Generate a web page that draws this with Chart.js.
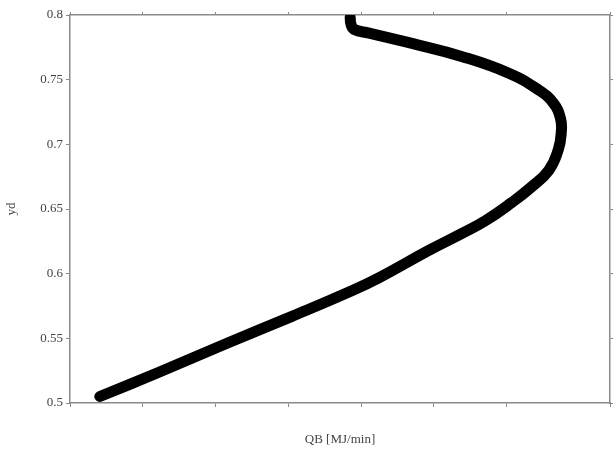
<!DOCTYPE html>
<html>
<head>
<meta charset="utf-8">
<script src="https://cdn.jsdelivr.net/npm/chart.js@4.4.1/dist/chart.umd.min.js"></script>
<style>
  html, body { margin: 0; padding: 0; background: #fff; }
  #wrap { width: 613px; height: 451px; }
</style>
</head>
<body>
<div id="wrap"><canvas id="c" width="613" height="451"></canvas></div>
<script>
// QB values (arbitrary units, x axis has no labels) and yd values
const qb = [0.41, 1.23, 2.15, 3.05, 3.88, 4.25, 4.93, 5.38, 5.71, 6.07, 6.34, 6.58, 6.71, 6.75, 6.74, 6.64, 6.44, 6.03, 5.38, 4.70, 4.11, 3.90, 3.86, 3.85];
const yd = [0.505, 0.524, 0.546, 0.567, 0.587, 0.597, 0.618, 0.631, 0.641, 0.655, 0.667, 0.680, 0.696, 0.709, 0.720, 0.732, 0.742, 0.755, 0.768, 0.778, 0.786, 0.789, 0.793, 0.798];
const yTicks = [0.5, 0.55, 0.6, 0.65, 0.7, 0.75, 0.8];

const points = qb.map((x, i) => ({ x: x, y: yd[i] }));
const axisGray = '#8a8a8a';
const font = { family: 'Liberation Serif', size: 13 };

new Chart(document.getElementById('c'), {
  type: 'scatter',
  data: {
    datasets: [{
      data: points,
      showLine: true,
      borderColor: '#000',
      borderWidth: 11,
      borderCapStyle: 'round',
      borderJoinStyle: 'round',
      tension: 0.45,
      pointRadius: 0,
      pointHoverRadius: 0
    }]
  },
  options: {
    responsive: false,
    animation: false,
    layout: { padding: { top: 15, right: 1 } },
    plugins: { legend: { display: false }, tooltip: { enabled: false } },
    scales: {
      x: {
        type: 'linear', min: 0, max: 7.42,
        ticks: { stepSize: 1, callback: () => '', font: font },
        grid: { drawOnChartArea: false, color: axisGray, tickLength: 4 },
        border: { color: axisGray, width: 1.5 },
        title: { display: true, text: 'QB [MJ/min]', color: '#444', font: font, padding: { top: 8 } },
        afterFit: s => { s.height = 48; }
      },
      x2: {
        type: 'linear', position: 'top', min: 0, max: 7.42,
        ticks: { stepSize: 1, callback: () => '' },
        grid: { drawOnChartArea: false, color: axisGray, tickLength: 3 },
        border: { color: axisGray, width: 1.5 },
        afterFit: s => { s.height = 0; }
      },
      y: {
        type: 'linear', min: 0.5, max: 0.8,
        afterBuildTicks: s => { s.ticks = yTicks.map(v => ({ value: v })); },
        ticks: { color: '#444', font: font, padding: 3, callback: v => String(v) },
        grid: { drawOnChartArea: false, color: axisGray, tickLength: 4 },
        border: { color: axisGray, width: 1.5 },
        title: { display: true, text: 'yd', color: '#444', font: font, padding: { bottom: 0 } },
        afterFit: s => { s.width = 70; }
      },
      y2: {
        type: 'linear', position: 'right', min: 0.5, max: 0.8,
        afterBuildTicks: s => { s.ticks = yTicks.map(v => ({ value: v })); },
        ticks: { callback: () => '' },
        grid: { drawOnChartArea: false, color: axisGray, tickLength: 3 },
        border: { color: axisGray, width: 1.5 },
        afterFit: s => { s.width = 0; }
      }
    }
  }
});
</script>
</body>
</html>
